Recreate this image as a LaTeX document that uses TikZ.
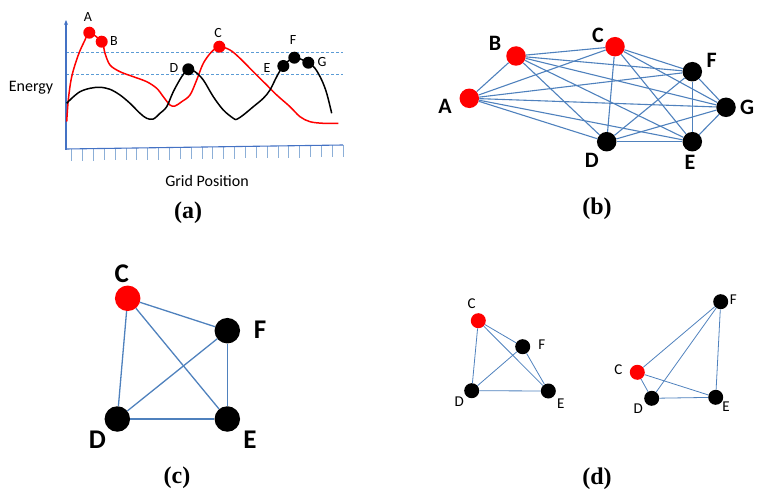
\documentclass[tikz,border=0pt]{standalone}
\usepackage{fontspec}
\setmainfont{Liberation Serif}
\newfontfamily\lab{Carlito}
\usetikzlibrary{arrows.meta}
\definecolor{edgeblue}{RGB}{79,129,189}
\definecolor{axisblue}{RGB}{68,114,196}
\definecolor{tickblue}{RGB}{140,175,215}
\definecolor{dashblue}{RGB}{91,155,213}
\definecolor{dotred}{RGB}{255,0,0}
\begin{document}
\begin{tikzpicture}[x=1pt,y=-1pt,
  sdot/.style={circle,inner sep=0pt,minimum size=#1},
  rdot/.style={sdot=#1,fill=dotred},
  kdot/.style={sdot=#1,fill=black},
  link/.style={draw=edgeblue,line width=1.1pt},
  thinlink/.style={draw=edgeblue,line width=0.8pt},
  alab/.style={font=\lab\fontsize{14}{17}\selectfont},
  blab/.style={font=\lab\bfseries\fontsize{22}{26}\selectfont},
  clab/.style={font=\lab\bfseries\fontsize{27}{32}\selectfont},
  dlab/.style={font=\lab\fontsize{15}{18}\selectfont},
  caption/.style={font=\bfseries\fontsize{24}{28}\selectfont},
  curve/.style={line width=1.5pt,line join=round}
]
\useasboundingbox (0,0) rectangle (757,492);

% ---------------- panel (a) ----------------
\draw[dashblue,line width=0.8pt,dash pattern=on 3pt off 2pt] (66,52.3) -- (343,52.3);
\draw[dashblue,line width=0.8pt,dash pattern=on 3pt off 2pt] (66,74) -- (343,74);
\foreach \i in {0,...,25} {
  \pgfmathsetmacro\xx{71.7+\i*10.86}
  \pgfmathsetmacro\yy{149-4*(\xx-66)/277}
  \draw[tickblue,line width=0.9pt] (\xx,\yy) -- (\xx,\yy+12);
}
\draw[axisblue,line width=1.1pt] (66,149) -- (343,145);
\draw[axisblue,line width=1.1pt,-{Stealth[length=5pt,width=4pt]}] (66,149.5) -- (66,20);

\draw[curve,dotred] plot[smooth,tension=0.55] coordinates {
 (66.7,121.7) (68.3,100) (71.7,76.7) (78.3,55) (85,40) (89.3,32.7)
 (101.7,41.7) (105,53.3) (110,65) (120,71.7) (133.3,76.7) (146.7,81.7)
 (156.7,88.3) (163.3,96.7) (170,105) (175,106) (181.7,101.7) (190,95)
 (196.7,80) (203.3,63.3) (211.7,51.7) (219.3,46.7) (230,50) (240,58.3)
 (253.3,71.7) (266.7,85) (276.7,95) (290,106.7) (300,116.7) (310,121.7)
 (323.3,123.3) (338.3,123.3)};
\draw[curve,black] plot[smooth,tension=0.55] coordinates {
 (66.7,103.3) (71.7,98.3) (80,91.7) (90,88.3) (100,87.3) (110,89.3)
 (120,95) (130,103.3) (140,113.3) (146.7,118.3) (153.3,119) (160,113.3)
 (166.7,106.7) (173.3,91.7) (181.7,76.7) (188.3,69.3) (195,71.7)
 (203.3,80) (213.3,96.7) (223.3,110) (233.3,118.3) (236.7,119.3)
 (243.3,115) (253.3,106.7) (263.3,98.3) (270,90) (276.7,76.7) (283.3,66)
 (294.3,57.7) (308.3,62.7) (315,68.3) (321.7,80) (326.7,93.3) (331.7,113.3)};

\node[rdot=12pt] (aA) at (89.3,32.7) {};
\node[rdot=12pt] (aB) at (101.7,41.7) {};
\node[rdot=12pt] (aC) at (219.3,46.7) {};
\node[kdot=12pt] (aD) at (188.3,69.3) {};
\node[kdot=12pt] (aE) at (283.3,66) {};
\node[kdot=12pt] (aF) at (294.3,57.7) {};
\node[kdot=12pt] (aG) at (308.3,62.7) {};

\node[alab] (laA) at (88,17) {A};
\node[alab] (laB) at (114,41) {B};
\node[alab] (laC) at (218,33) {C};
\node[alab] (laD) at (174,68) {D};
\node[alab] (laE) at (267,68) {E};
\node[alab] (laF) at (293,40) {F};
\node[alab] (laG) at (322,62) {G};
\node[font=\lab\fontsize{16}{19}\selectfont] (energy) at (31,88) {Energy};
\node[font=\lab\fontsize{16}{19}\selectfont] (grid) at (207,181) {Grid Position};
\node[caption] (capa) at (188,213) {(a)};

% ---------------- panel (b) ----------------
\node[rdot=19.5pt] (bA) at (469.3,98.3) {};
\node[rdot=19.5pt] (bB) at (516,56) {};
\node[rdot=19.5pt] (bC) at (615,46.7) {};
\node[kdot=19.5pt] (bF) at (692.3,71.7) {};
\node[kdot=19.5pt] (bG) at (726,107.3) {};
\node[kdot=19.5pt] (bE) at (692.3,141.7) {};
\node[kdot=19.5pt] (bD) at (606.7,141.7) {};
\foreach \u/\v in {A/B,A/C,A/D,A/E,A/F,A/G,B/C,B/D,B/E,B/F,B/G,C/D,C/E,C/F,C/G,D/E,D/F,D/G,E/F,E/G,F/G}
  \draw[link] (b\u) -- (b\v);
\node[blab] (lbA) at (445,106) {A};
\node[blab] (lbB) at (495,43) {B};
\node[blab] (lbC) at (598,35) {C};
\node[blab] (lbF) at (711.7,60) {F};
\node[blab] (lbG) at (747,107) {G};
\node[blab] (lbD) at (591.7,160) {D};
\node[blab] (lbE) at (690,162.7) {E};
\node[caption] (capb) at (597,209) {(b)};

% ---------------- panel (c) ----------------
\node[rdot=25.5pt] (cC) at (127.7,298.3) {};
\node[kdot=25.5pt] (cF) at (227.3,330.7) {};
\node[kdot=25.5pt] (cD) at (117.3,419) {};
\node[kdot=25.5pt] (cE) at (227.3,419) {};
\foreach \u/\v in {C/F,C/D,C/E,F/D,F/E,D/E}
  \draw[link,line width=1.3pt] (c\u) -- (c\v);
\node[clab] (lcC) at (121.7,273.3) {C};
\node[clab] (lcF) at (260,329.3) {F};
\node[clab] (lcD) at (97.3,439.3) {D};
\node[clab] (lcE) at (250,439.3) {E};
\node[caption] (capc) at (177,478) {(c)};

% ---------------- panel (d) ----------------
\node[rdot=15pt] (dC) at (478.3,320.7) {};
\node[kdot=15pt] (dF) at (522.7,346.7) {};
\node[kdot=15pt] (dD) at (471.7,390.7) {};
\node[kdot=15pt] (dE) at (548.3,391) {};
\foreach \u/\v in {C/D,C/F,C/E,D/F,D/E,F/E}
  \draw[thinlink] (d\u) -- (d\v);
\node[dlab] (ldC) at (471.7,304) {C};
\node[dlab] (ldF) at (541.7,345) {F};
\node[dlab] (ldD) at (459.3,401.7) {D};
\node[dlab] (ldE) at (560.7,403.3) {E};

\node[rdot=15pt] (eC) at (637.3,372.3) {};
\node[kdot=15pt] (eF) at (720.7,301.7) {};
\node[kdot=15pt] (eD) at (651.7,398.3) {};
\node[kdot=15pt] (eE) at (715.7,397.3) {};
\foreach \u/\v in {C/F,C/E,C/D,D/F,D/E,F/E}
  \draw[thinlink] (e\u) -- (e\v);
\node[dlab] (leC) at (618.3,369.3) {C};
\node[dlab] (leF) at (733.3,300) {F};
\node[dlab] (leD) at (638.3,408.3) {D};
\node[dlab] (leE) at (726,406.7) {E};
\node[caption] (capd) at (597,479) {(d)};
\end{tikzpicture}
\end{document}
